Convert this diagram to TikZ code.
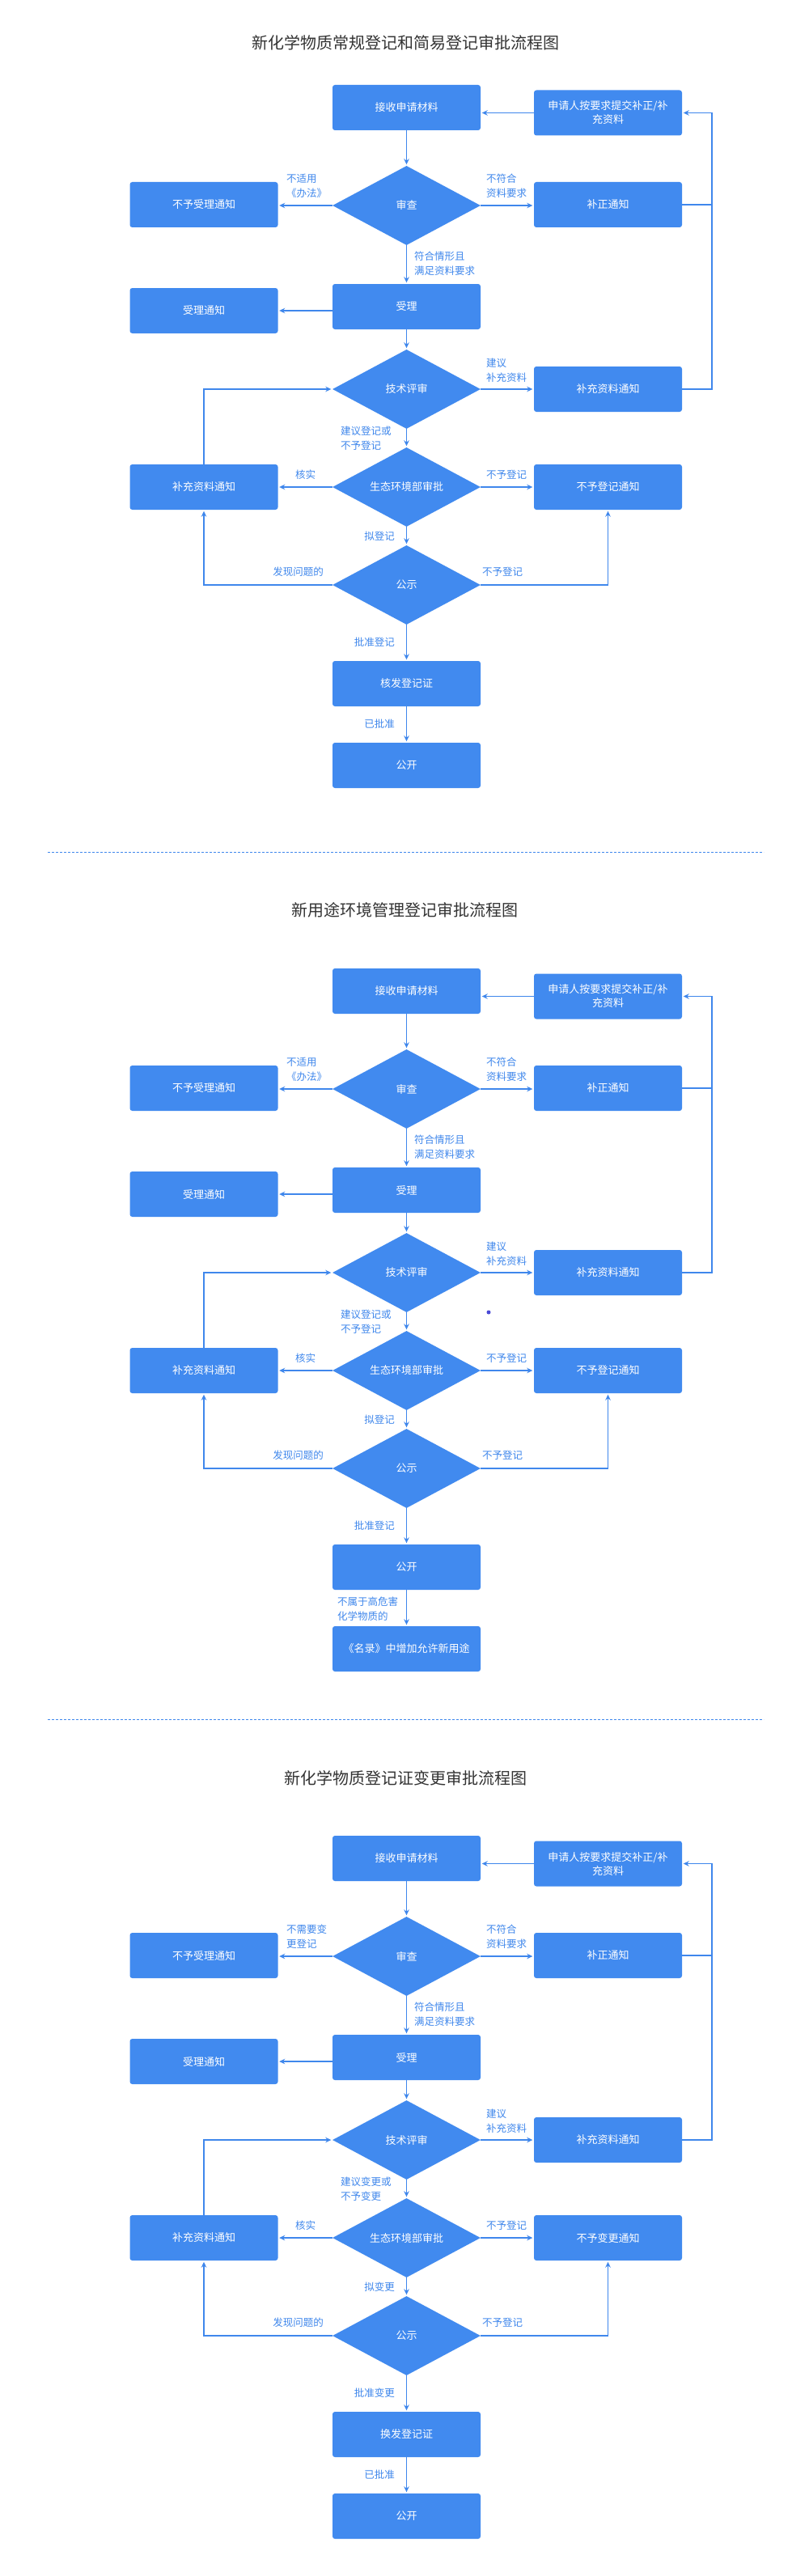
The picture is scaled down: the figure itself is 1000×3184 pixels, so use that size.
\documentclass[tikz,border=0pt]{standalone}
\usepackage{fontspec}
\newfontfamily\cjk{Noto Sans CJK SC}
\usetikzlibrary{shapes.geometric,arrows.meta}
\definecolor{boxblue}{HTML}{418AEF}
\definecolor{lineblue}{HTML}{3F87EC}
\definecolor{titlegray}{HTML}{333333}
\definecolor{dotblue}{HTML}{4A4AD6}
\tikzset{
 box/.style={fill=boxblue, rounded corners=3pt, minimum width=183pt, minimum height=56pt, inner sep=0pt, text=white, align=center, font=\cjk\fontsize{13}{17}\selectfont},
 dia/.style={diamond, fill=boxblue, minimum width=183pt, minimum height=98pt, aspect=1.87, inner sep=0pt, text=white, font=\cjk\fontsize{13}{17}\selectfont},
 lbl/.style={text=lineblue, align=left, inner sep=0pt, font=\cjk\fontsize{12.5}{18}\selectfont},
 ttl/.style={text=titlegray, font=\cjk\fontsize{20}{24}\selectfont, inner sep=0pt},
 arr/.style={draw=lineblue, line width=1.2pt, shorten >=1.5pt, -{Stealth[length=7pt,width=6.5pt]}},
 ln/.style={draw=lineblue, line width=1.2pt},
 sepline/.style={draw=lineblue, line width=1pt, dash pattern=on 3pt off 2pt},
}
\newcommand\chartbody[7]{%
 \node[box] (#1recv) at (502.5,133) {接收申请材料};
 \node[box] (#1appl) at (751.5,139.5) {申请人按要求提交补正/补\\充资料};
 \node[dia] (#1rev) at (502.5,254) {审查};
 \node[box] (#1rej) at (252,253) {不予受理通知};
 \node[box] (#1corr) at (751.5,253) {补正通知};
 \node[box] (#1acc) at (502.5,379) {受理};
 \node[box] (#1accn) at (252,384) {受理通知};
 \node[dia] (#1tech) at (502.5,481) {技术评审};
 \node[box] (#1supp) at (751.5,481) {补充资料通知};
 \node[dia] (#1env) at (502.5,602) {生态环境部审批};
 \node[box] (#1suppL) at (252,602) {补充资料通知};
 \node[box] (#1noreg) at (751.5,602) {#4};
 \node[dia] (#1pub) at (502.5,723) {公示};
 \node[box] (#1cert) at (502.5,845) {#7};
 \node[lbl, anchor=west] (#1lrl) at (354,230) {#2};
 \node[lbl, anchor=west] (#1lrr) at (601,230) {不符合\\资料要求};
 \node[lbl, anchor=west] (#1lrd) at (512,325.5) {符合情形且\\满足资料要求};
 \node[lbl, anchor=west] (#1ltr) at (601,458) {建议\\补充资料};
 \node[lbl, anchor=west] (#1ltd) at (421,541.5) {#3};
 \node[lbl, anchor=west] (#1lel) at (365,587) {核实};
 \node[lbl, anchor=west] (#1ler) at (601,587) {不予登记};
 \node[lbl, anchor=east] (#1led) at (488,663) {#5};
 \node[lbl, anchor=east] (#1lpl) at (400,707) {发现问题的};
 \node[lbl, anchor=west] (#1lpr) at (596,707) {不予登记};
 \node[lbl, anchor=east] (#1lpd) at (488,794) {#6};
 \draw[arr] (#1recv.south) -- (#1rev.north);
 \draw[arr] (#1appl.west) -- (#1recv.east |- #1appl.west);
 \draw[arr] (#1rev.west) -- (#1rej.east |- #1rev.west);
 \draw[arr] (#1rev.east) -- (#1corr.west |- #1rev.east);
 \draw[arr] (#1rev.south) -- (#1acc.north);
 \draw[arr] (#1acc.west |- #1accn.east) -- (#1accn.east);
 \draw[arr] (#1acc.south) -- (#1tech.north);
 \draw[arr] (#1tech.east) -- (#1supp.west);
 \draw[arr] (#1tech.south) -- (#1env.north);
 \draw[arr] (#1env.west) -- (#1suppL.east);
 \draw[arr] (#1env.east) -- (#1noreg.west);
 \draw[arr] (#1env.south) -- (#1pub.north);
 \draw[arr] (#1pub.south) -- (#1cert.north);
 \draw[arr] (#1supp.east) -- (880,481) |- (#1appl.east);
 \draw[ln] (#1corr.east) -- (880,253);
 \draw[arr] (#1suppL.north) |- (#1tech.west);
 \draw[arr] (#1pub.west) -| (#1suppL.south);
 \draw[arr] (#1pub.east) -| (#1noreg.south);
}
\begin{document}
\begin{tikzpicture}[x=1pt,y=-1pt]
\fill[white] (0,0) rectangle (1000,3184);
\useasboundingbox (0,0) rectangle (1000,3184);
% titles
\node[ttl] (t1) at (501,53) {新化学物质常规登记和简易登记审批流程图};
\node[ttl] (t2) at (500,1125) {新用途环境管理登记审批流程图};
\node[ttl] (t3) at (501,2198) {新化学物质登记证变更审批流程图};
% separators
\draw[sepline] (59,1053) -- (944,1053);
\draw[sepline] (59,2125) -- (944,2125);
% chart 1
\chartbody{a}{不适用\\《办法》}{建议登记或\\不予登记}{不予登记通知}{拟登记}{批准登记}{核发登记证}
\node[box] (aopen) at (502.5,946) {公开};
\node[lbl, anchor=east] (alcd) at (488,895) {已批准};
\draw[arr] (acert.south) -- (aopen.north);
% chart 2
\begin{scope}[yshift=-1092pt]
\chartbody{b}{不适用\\《办法》}{建议登记或\\不予登记}{不予登记通知}{拟登记}{批准登记}{公开}
\node[box] (bfin) at (502.5,946) {《名录》中增加允许新用途};
\node[lbl, anchor=west] (blcd) at (417,896.5) {不属于高危害\\化学物质的};
\draw[arr] (bcert.south) -- (bfin.north);
\fill[dotblue] (604,530) circle (2.5pt);
\end{scope}
% chart 3
\begin{scope}[yshift=-2164pt]
\chartbody{c}{不需要变\\更登记}{建议变更或\\不予变更}{不予变更通知}{拟变更}{批准变更}{换发登记证}
\node[box] (copen) at (502.5,946) {公开};
\node[lbl, anchor=east] (clcd) at (488,895) {已批准};
\draw[arr] (ccert.south) -- (copen.north);
\end{scope}
\end{tikzpicture}
\end{document}
